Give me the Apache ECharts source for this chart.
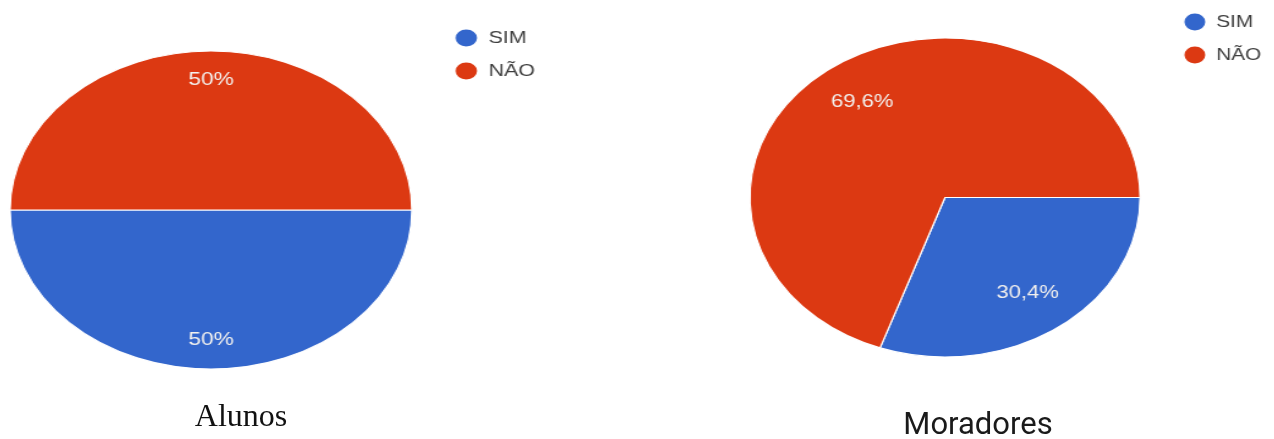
<!DOCTYPE html>
<html>
<head>
<meta charset="utf-8">
<script src="https://cdn.jsdelivr.net/npm/echarts@6/dist/echarts.min.js"></script>
<style>
  html, body { margin: 0; padding: 0; background: #fff; }
  #wrap { position: relative; width: 1274px; height: 439px; overflow: hidden; }
  .layer { position: absolute; left: 0; top: 0; height: 439px; transform-origin: 0 0; }
</style>
</head>
<body>
<div id="wrap">
  <div id="pieAlunos" class="layer"></div>
  <div id="pieMoradores" class="layer"></div>
  <div id="titles" class="layer" style="width:1274px"></div>
</div>
<script>
// Answer categories and the share (%) of each group
const categories = ['SIM', 'NÃO'];
const alunosValues = [50, 50];
const moradoresValues = [30.4, 69.6];
const groupTitles = ['Alunos', 'Moradores'];

const colors = ['#3366cc', '#dc3912'];

function fmtPercent(v) {
  return String(v).replace('.', ',') + '%';
}

// Each pie lives in its own layer, widened horizontally so the discs read as ellipses.
function buildPie(el, values, cfg) {
  const k = cfg.stretch;
  el.style.width = (1274 / k) + 'px';
  el.style.transform = 'scaleX(' + k + ')';
  const chart = echarts.init(el, null, { renderer: 'canvas' });
  const data = categories.map((name, i) => ({
    name: name, value: values[i], itemStyle: { color: colors[i] }
  }));
  const center = [cfg.cx / k, cfg.cy];
  chart.setOption({
    animation: false,
    legend: {
      orient: 'vertical',
      left: cfg.legendX / k,
      top: cfg.legendY,
      padding: 0,
      itemGap: 12,
      itemWidth: 19,
      itemHeight: 19,
      icon: 'circle',
      data: categories,
      textStyle: { color: '#3e3e3e', fontSize: 17, fontFamily: 'Arial, "Liberation Sans", sans-serif', lineHeight: 21, padding: [0, 0, 0, 3] }
    },
    series: [
      {
        type: 'pie',
        center: center,
        radius: cfg.r,
        startAngle: 0,
        clockwise: true,
        silent: true,
        label: { show: false },
        labelLine: { show: false },
        itemStyle: { borderColor: '#ffffff', borderWidth: 1.2 },
        data: data
      },
      {
        // label carrier: same slices, transparent, ring chosen so labels sit near the rim
        type: 'pie',
        center: center,
        radius: [cfg.r * cfg.labelInner, cfg.r],
        startAngle: 0,
        clockwise: true,
        silent: true,
        avoidLabelOverlap: false,
        itemStyle: { color: 'rgba(0,0,0,0)' },
        label: {
          show: true,
          position: 'inside',
          color: '#f3f1ee',
          fontSize: 18,
          fontFamily: 'Arial, "Liberation Sans", sans-serif',
          formatter: p => fmtPercent(p.value)
        },
        labelLine: { show: false },
        data: categories.map((name, i) => ({ name: name, value: values[i] }))
      }
    ]
  });
  return chart;
}

buildPie(document.getElementById('pieAlunos'), alunosValues, {
  stretch: 1.264, cx: 211, cy: 210, r: 159, labelInner: 0.6,
  legendX: 453, legendY: 27.5
});

buildPie(document.getElementById('pieMoradores'), moradoresValues, {
  stretch: 1.223, cx: 945, cy: 197.5, r: 159.5, labelInner: 0.43,
  legendX: 1182, legendY: 11.5
});

// Group captions under each pie
const titleChart = echarts.init(document.getElementById('titles'));
titleChart.setOption({
  animation: false,
  graphic: [
    {
      type: 'text', x: 241, y: 434,
      style: {
        text: groupTitles[0], fill: '#111',
        font: '32px "Liberation Serif", "Times New Roman", serif',
        textAlign: 'center', textVerticalAlign: 'bottom'
      }
    },
    {
      type: 'text', x: 978, y: 442,
      style: {
        text: groupTitles[1], fill: '#1a1a1a',
        font: '31px Roboto, "Liberation Sans", sans-serif',
        textAlign: 'center', textVerticalAlign: 'bottom'
      }
    }
  ]
});
</script>
</body>
</html>
